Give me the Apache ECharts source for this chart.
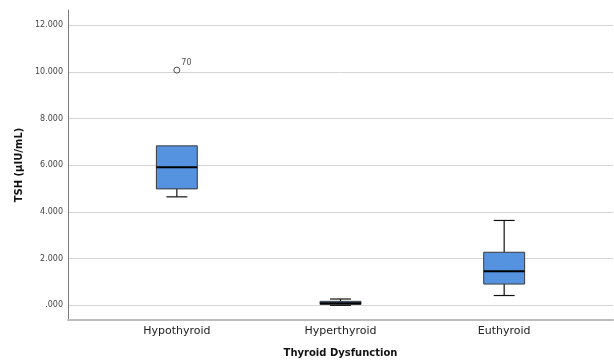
<!DOCTYPE html>
<html>
<head>
<meta charset="utf-8">
<script src="https://cdn.jsdelivr.net/npm/echarts@6/dist/echarts.min.js"></script>
<style>html,body{margin:0;padding:0;background:#fff;}#c{width:614px;height:363px;}</style>
</head>
<body>
<div id="c"></div>
<script>
const categories = ['Hypothyroid', 'Hyperthyroid', 'Euthyroid'];
const whiskerLow = [4.67, 0.03, 0.45];
const q1 = [5.01, 0.07, 0.94];
const median = [5.93, 0.12, 1.49];
const q3 = [6.85, 0.20, 2.30];
const whiskerHigh = [6.85, 0.30, 3.66];
const outlierCategory = [0];
const outlierValue = [10.09];
const outlierLabel = ['70'];
const yTicks = [0, 2, 4, 6, 8, 10, 12];
const yMin = -0.64, yMax = 12.66;

const boxData = categories.map((c, i) => [i, whiskerLow[i], q1[i], median[i], q3[i], whiskerHigh[i]]);
const outData = outlierCategory.map((c, i) => ({value: [c, outlierValue[i]], name: outlierLabel[i]}));

function fmt(v) {
  let s = Number(v).toFixed(3);
  if (s.startsWith('0.')) s = s.slice(1);
  return s;
}

function renderItem(params, api) {
  const x = api.value(0);
  const pLow = api.coord([x, api.value(1)]);
  const pQ1 = api.coord([x, api.value(2)]);
  const pMed = api.coord([x, api.value(3)]);
  const pQ3 = api.coord([x, api.value(4)]);
  const pHigh = api.coord([x, api.value(5)]);
  const band = api.size([1, 0])[0];
  const bw = band * 0.25, cw = band * 0.128;
  const cx = pMed[0];
  const lineStyle = {stroke: '#111', lineWidth: 1.2};
  const children = [];
  if (api.value(5) > api.value(4)) {
    children.push({type: 'line', shape: {x1: cx, y1: pQ3[1], x2: cx, y2: pHigh[1]}, style: lineStyle});
    children.push({type: 'line', shape: {x1: cx - cw / 2, y1: pHigh[1], x2: cx + cw / 2, y2: pHigh[1]}, style: lineStyle});
  }
  if (api.value(1) < api.value(2)) {
    children.push({type: 'line', shape: {x1: cx, y1: pQ1[1], x2: cx, y2: pLow[1]}, style: lineStyle});
    children.push({type: 'line', shape: {x1: cx - cw / 2, y1: pLow[1], x2: cx + cw / 2, y2: pLow[1]}, style: lineStyle});
  }
  children.push({type: 'rect', shape: {x: cx - bw / 2, y: pQ3[1], width: bw, height: pQ1[1] - pQ3[1]},
    style: {fill: '#5592e0', stroke: '#3a3a3a', lineWidth: 1}});
  children.push({type: 'line', shape: {x1: cx - bw / 2, y1: pMed[1], x2: cx + bw / 2, y2: pMed[1]},
    style: {stroke: '#000', lineWidth: 2}});
  return {type: 'group', children: children};
}

const chart = echarts.init(document.getElementById('c'), null, {renderer: 'canvas'});
chart.setOption({
  backgroundColor: '#fff',
  animation: false,
  grid: [
    {left: 68, right: 1, top: 10, bottom: 42},
    {left: 95, right: 28, top: 10, bottom: 42}
  ],
  xAxis: [
    {gridIndex: 0, type: 'value', min: 0, max: 1,
      axisLine: {show: true, onZero: false, lineStyle: {color: '#bdbdbd', width: 2}},
      axisTick: {show: false}, axisLabel: {show: false}, splitLine: {show: false},
      name: 'Thyroid Dysfunction', nameLocation: 'middle', nameGap: 28,
      nameTextStyle: {fontFamily: 'DejaVu Sans', fontWeight: 'bold', fontSize: 10, color: '#111'}},
    {gridIndex: 1, type: 'category', data: categories,
      axisLine: {show: false}, axisTick: {show: false}, splitLine: {show: false},
      axisLabel: {margin: 5, fontFamily: 'DejaVu Sans', fontSize: 11, color: '#222'}}
  ],
  yAxis: [
    {gridIndex: 0, type: 'value', min: yMin, max: yMax,
      axisLine: {show: true, lineStyle: {color: '#7a7a7a', width: 1}},
      axisTick: {show: false, customValues: yTicks},
      axisLabel: {customValues: yTicks, formatter: fmt, margin: 5, fontFamily: 'DejaVu Sans', fontSize: 8, color: '#444'},
      splitLine: {show: true, lineStyle: {color: '#d4d4d4', width: 1}},
      name: 'TSH (µIU/mL)', nameLocation: 'middle', nameGap: 40, nameRotate: 90,
      nameTextStyle: {fontFamily: 'DejaVu Sans', fontWeight: 'bold', fontSize: 10, color: '#111'}},
    {gridIndex: 1, type: 'value', min: yMin, max: yMax, show: false}
  ],
  series: [
    {type: 'custom', xAxisIndex: 1, yAxisIndex: 1, data: boxData, renderItem: renderItem,
      encode: {x: 0, y: [1, 2, 3, 4, 5]}, clip: false},
    {type: 'scatter', xAxisIndex: 1, yAxisIndex: 1, data: outData, symbol: 'circle', symbolSize: 6,
      itemStyle: {color: '#fff', borderColor: '#222', borderWidth: 1},
      label: {show: true, position: 'right', distance: 0, offset: [1, -7], formatter: p => p.name,
        fontFamily: 'DejaVu Sans', fontSize: 8, color: '#222'}}
  ]
});
</script>
</body>
</html>
